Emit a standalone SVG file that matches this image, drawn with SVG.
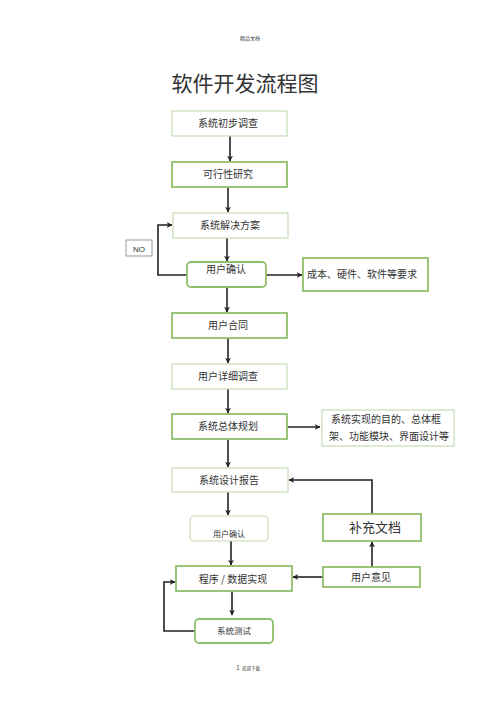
<svg xmlns="http://www.w3.org/2000/svg" width="500" height="708" viewBox="0 0 500 708">
<style>
text{font-family:"Noto Sans CJK SC","Noto Sans",sans-serif;fill:#333;text-anchor:middle}
.t{font-size:10px}
.lt{fill:#fff;stroke:#c6dcb4;stroke-width:1.2}
.dk{fill:#fff;stroke:#8fbf6c;stroke-width:1.8}
.c{fill:none;stroke:#222;stroke-width:1.6}
</style>
<defs>
<marker id="ah" viewBox="0 0 10 10" refX="9" refY="5" markerWidth="6" markerHeight="6" orient="auto" markerUnits="userSpaceOnUse">
<path d="M0,0 L10,5 L0,10 L3,5 Z" fill="#222"/>
</marker>
</defs>
<rect width="500" height="708" fill="#fff"/>
<text x="250" y="40" style="font-size:5px">精品文档</text>
<text x="245" y="91" style="font-size:21px">软件开发流程图</text>

<g id="connectors">
<path class="c" d="M230,136 V161" marker-end="url(#ah)"/>
<path class="c" d="M228,187 V212" marker-end="url(#ah)"/>
<path class="c" d="M227,238 V261" marker-end="url(#ah)"/>
<path class="c" d="M187,275 H158 V225 H172" marker-end="url(#ah)"/>
<path class="c" d="M266,275 H302" marker-end="url(#ah)"/>
<path class="c" d="M227,287 V312" marker-end="url(#ah)"/>
<path class="c" d="M228,338 V363" marker-end="url(#ah)"/>
<path class="c" d="M228,389 V413" marker-end="url(#ah)"/>
<path class="c" d="M287,427 H320" marker-end="url(#ah)"/>
<path class="c" d="M228,439 V467" marker-end="url(#ah)"/>
<path class="c" d="M228,492 V515" marker-end="url(#ah)"/>
<path class="c" d="M231,541 V565" marker-end="url(#ah)"/>
<path class="c" d="M372,514 V480 H289" marker-end="url(#ah)"/>
<path class="c" d="M372,567 V542" marker-end="url(#ah)"/>
<path class="c" d="M323,577 H293" marker-end="url(#ah)"/>
<path class="c" d="M232,591 V615" marker-end="url(#ah)"/>
<path class="c" d="M195,631 H164 V582 H175" marker-end="url(#ah)"/>
</g>

<g id="n1"><rect class="lt" x="172" y="111" width="115" height="25"/><text class="t" x="228" y="127">系统初步调查</text></g>
<g id="n2"><rect class="dk" x="172" y="162" width="115" height="25"/><text class="t" x="228" y="178">可行性研究</text></g>
<g id="n3"><rect class="lt" x="173" y="213" width="115" height="25"/><text class="t" x="230" y="229">系统解决方案</text></g>
<g id="no"><rect x="126" y="240" width="26" height="16" fill="#fff" stroke="#999" stroke-width="1"/><text x="139" y="251.5" style="font-size:8px;font-family:'Liberation Sans',sans-serif">NO</text></g>
<g id="n4"><rect class="dk" x="187" y="262" width="79" height="25" rx="4"/><text class="t" x="226" y="273">用户确认</text></g>
<g id="r1"><rect class="dk" x="303" y="258" width="125" height="33"/><text class="t" x="362" y="278">成本、硬件、软件等要求</text></g>
<g id="n5"><rect class="dk" x="172" y="313" width="115" height="25"/><text class="t" x="228" y="329">用户合同</text></g>
<g id="n6"><rect class="lt" x="172" y="364" width="115" height="25"/><text class="t" x="228" y="380">用户详细调查</text></g>
<g id="n7"><rect class="dk" x="172" y="414" width="115" height="25"/><text class="t" x="228" y="430">系统总体规划</text></g>
<g id="r2"><rect class="lt" x="322" y="410" width="132" height="36"/><text class="t" x="386" y="423">系统实现的目的、总体框</text><text class="t" x="389" y="440">架、功能模块、界面设计等</text></g>
<g id="n8"><rect class="lt" x="172" y="468" width="116" height="24"/><text class="t" x="229" y="484">系统设计报告</text></g>
<g id="n9"><rect class="lt" x="190" y="516" width="78" height="25" rx="4"/><text x="229" y="537" style="font-size:8px">用户确认</text></g>
<g id="n10"><rect class="dk" x="176" y="566" width="116" height="25"/><text class="t" x="233" y="583">程序 / 数据实现</text></g>
<g id="s1"><rect class="dk" x="323" y="514" width="98" height="27"/><text x="375" y="532" style="font-size:13px">补充文档</text></g>
<g id="s2"><rect class="dk" x="323" y="567" width="97" height="20"/><text class="t" x="371" y="581">用户意见</text></g>
<g id="n11"><rect class="dk" x="195" y="619" width="78" height="24" rx="4"/><text x="234" y="634" style="font-size:8.5px">系统测试</text></g>

<text x="238" y="670" style="font-size:6px">1</text>
<text x="251" y="670" style="font-size:4.5px">欢迎下载</text>
</svg>
